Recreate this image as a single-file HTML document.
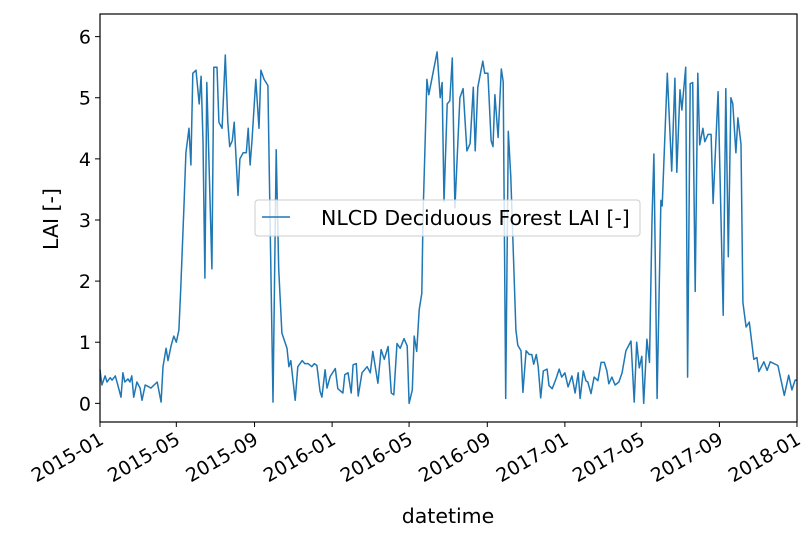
<!DOCTYPE html>
<html><head><meta charset="utf-8"><style>
body{margin:0;background:#fff}
svg text{font-family:"DejaVu Sans","Liberation Sans",sans-serif;fill:#000}
</style></head><body>
<svg width="812" height="541" xmlns="http://www.w3.org/2000/svg">
<g id="chart"></g>
</svg>
<script>
const days=[0,3,8,11,16,19,24,28,33,36,39,44,47,50,53,58,63,66,71,75,80,85,90,96,99,104,107,112,116,120,124,127,132,135,140,143,146,151,156,159,162,165,168,176,179,184,187,192,197,201,204,208,211,217,220,225,230,233,236,239,245,250,253,258,264,272,277,281,286,294,297,300,307,311,318,322,327,333,337,341,346,349,354,357,
362,370,374,382,385,390,395,398,403,406,412,420,425,429,437,442,447,453,458,462,467,472,478,483,486,491,494,498,502,506,508,514,517,530,535,538,541,546,550,554,558,566,571,577,582,587,590,594,602,605,610,615,618,621,626,631,634,638,642,646,654,657,662,665,670,675,679,682,686,689,693,697,703,706,711,717,722,726,
731,736,742,747,752,755,760,764,767,772,777,783,788,793,797,800,805,810,816,821,827,835,840,844,848,852,855,860,864,868,871,876,882,884,892,899,904,907,912,915,921,924,928,932,936,940,943,948,951,956,961,964,972,980,984,988,992,995,1000,1003,1008,1011,1016,1021,1028,1033,1036,1044,1049,1054,1066,1076,1083,1088,1093,1096];
const lai=[0.55,0.3,0.45,0.35,0.42,0.38,0.45,0.3,0.1,0.5,0.35,0.4,0.35,0.45,0.1,0.35,0.25,0.05,0.3,0.28,0.25,0.3,0.35,0.02,0.6,0.9,0.7,0.95,1.1,1.0,1.2,1.9,3.2,4.1,4.5,3.9,5.4,5.45,4.9,5.35,4.3,2.05,5.25,2.2,5.5,5.5,4.6,4.5,5.7,4.6,4.2,4.3,4.6,3.4,4.0,4.1,4.1,4.5,3.9,4.3,5.3,4.5,5.45,5.3,5.2,0.02,4.15,2.2,1.15,0.9,0.6,0.7,0.05,0.6,0.7,0.65,0.65,0.6,0.65,0.62,0.2,0.1,0.55,0.25,
0.44,0.57,0.24,0.17,0.47,0.5,0.17,0.63,0.65,0.12,0.5,0.6,0.5,0.85,0.33,0.88,0.72,0.93,0.17,0.14,0.98,0.9,1.06,0.94,0.0,0.22,1.1,0.85,1.53,1.8,3.1,5.3,5.05,5.75,5.0,5.25,3.3,4.9,4.95,5.65,3.2,5.0,5.15,4.13,4.25,5.17,4.13,5.17,5.6,5.4,5.4,4.3,4.2,5.05,4.35,5.47,5.26,0.08,4.45,3.7,1.2,0.95,0.86,0.18,0.86,0.8,0.8,0.64,0.8,0.6,0.09,0.53,0.56,0.29,0.24,0.4,0.56,0.43,
0.5,0.27,0.45,0.17,0.5,0.08,0.53,0.37,0.35,0.16,0.43,0.37,0.67,0.67,0.53,0.32,0.43,0.3,0.35,0.5,0.86,1.02,0.02,1.0,0.58,0.77,0.0,1.05,0.67,3.0,4.08,0.08,3.32,3.23,5.4,3.8,5.32,3.78,5.13,4.8,5.5,0.43,5.23,5.25,1.83,5.4,4.23,4.5,4.28,4.4,4.4,3.27,5.1,1.44,5.15,2.4,5.0,4.9,4.1,4.67,4.24,1.65,1.25,1.33,0.72,0.75,0.52,0.68,0.54,0.68,0.62,0.13,0.46,0.22,0.38,0.38];
const yTicks=[0,1,2,3,4,5,6];
const xTickDays=[0,120,243,365,486,609,731,851,974,1096];
const xTickLabels=["2015-01","2015-05","2015-09","2016-01","2016-05","2016-09","2017-01","2017-05","2017-09","2018-01"];

const L=100,R=797,T=14,B=422,D0=0,D1=1096,V0=-0.305,V1=6.37;
const FS=20.5, TFS=19;
const xs=d=>L+(d-D0)/(D1-D0)*(R-L);
const ys=v=>B-(v-V0)/(V1-V0)*(B-T);
const NS="http://www.w3.org/2000/svg";
const g=document.getElementById('chart');
function mk(t,a,txt){const e=document.createElementNS(NS,t);for(const k in a)e.setAttribute(k,a[k]);if(txt!==undefined)e.textContent=txt;g.appendChild(e);return e;}

let p="";
for(let i=0;i<days.length;i++)p+=(i?"L":"M")+xs(days[i]).toFixed(1)+","+ys(lai[i]).toFixed(1);
const line=mk('path',{d:p,fill:'none',stroke:'#1f77b4','stroke-width':1.5,'stroke-linejoin':'round'});



yTicks.forEach(v=>{
  const y=ys(v);
  const t=mk('line',{x1:L-5,x2:L,y1:y,y2:y,stroke:'#000','stroke-width':1});
  
  
  const l=mk('text',{x:L-9,y:y+7,'text-anchor':'end','font-size':TFS},String(v));
  
  
});
xTickDays.forEach((d,i)=>{
  const x=xs(d);
  const t=mk('line',{x1:x,x2:x,y1:B,y2:B+5,stroke:'#000','stroke-width':1});
  
  
  const l=mk('text',{x:x+5,y:B+21,'text-anchor':'end','font-size':TFS,transform:`rotate(-30 ${x+5} ${B+21})`},xTickLabels[i]);
  
  
});
const fr=mk('rect',{x:L,y:T,width:R-L,height:B-T,fill:'none',stroke:'#000','stroke-width':1.2});



const lg=mk('rect',{x:255,y:200,width:385,height:36,rx:3,fill:'rgba(255,255,255,0.8)',stroke:'#ccc','stroke-width':1});


const ll=mk('line',{x1:262,x2:290,y1:217,y2:217,stroke:'#1f77b4','stroke-width':1.5});


const lt=mk('text',{x:321,y:225,'font-size':FS},'NLCD Deciduous Forest LAI [-]');



const yl=mk('text',{x:58,y:219,'text-anchor':'middle','font-size':FS,transform:'rotate(-90 58 219)'},'LAI [-]');


const xl=mk('text',{x:448,y:523,'text-anchor':'middle','font-size':FS},'datetime');


</script>
</body></html>
